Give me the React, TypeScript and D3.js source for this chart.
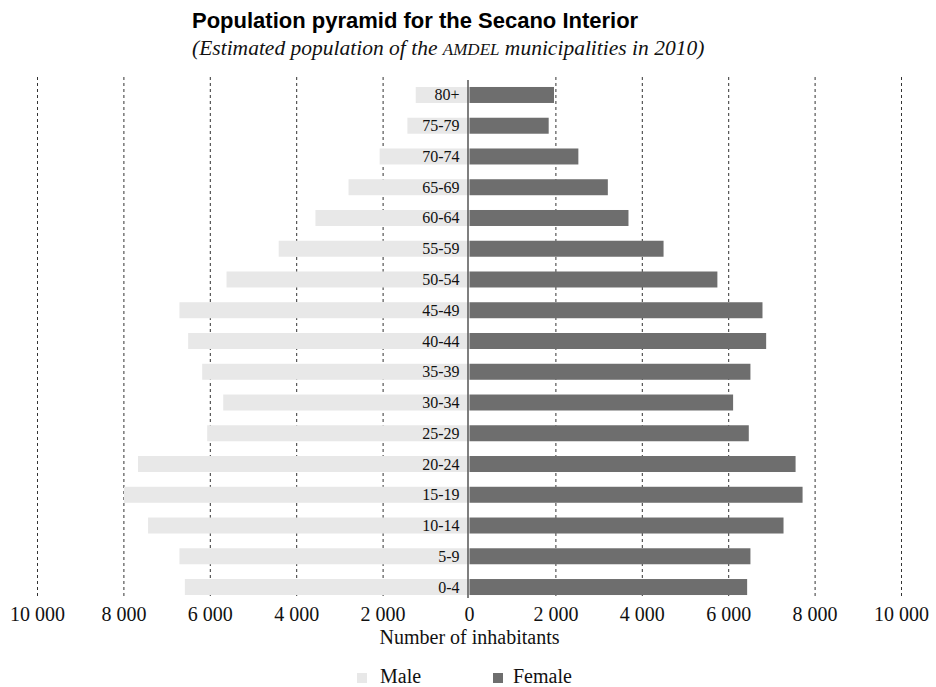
import React from "react";
import * as d3 from "d3";

const ageGroups = ["80+", "75-79", "70-74", "65-69", "60-64", "55-59", "50-54", "45-49", "40-44", "35-39", "30-34", "25-29", "20-24", "15-19", "10-14", "5-9", "0-4"];
const maleValues = [1245, 1438, 2080, 2800, 3566, 4417, 5624, 6714, 6513, 6188, 5701, 6072, 7673, 7998, 7441, 6714, 6589];
const femaleValues = [1956, 1833, 2520, 3202, 3680, 4492, 5738, 6782, 6867, 6503, 6102, 6465, 7548, 7710, 7269, 6503, 6427];
const tickValues = [-10000, -8000, -6000, -4000, -2000, 0, 2000, 4000, 6000, 8000, 10000];
const seriesNames = ["Male", "Female"];
const seriesColors = ["#e8e8e8", "#6e6e6e"];

const W = 936;
const H = 687;
const serif = "'Liberation Serif', 'Times New Roman', serif";
const sans = "'Liberation Sans', Arial, Helvetica, sans-serif";

export default function App() {
  const x = d3.scaleLinear().domain([-10000, 10000]).range([37.5, 901.5]);
  const y = d3.scaleBand<string>().domain(ageGroups).range([79.6, 602.4]).paddingInner(0.48).paddingOuter(0.24);
  const fmt = (v: number) => {
    const a = Math.abs(v);
    return a >= 1000 ? `${Math.floor(a / 1000)} ${String(a % 1000).padStart(3, "0")}` : String(a);
  };
  const bw = y.bandwidth();
  return (
    <svg width={W} height={H} style={{ position: "absolute", left: 0, top: 0, background: "#fff" }}>
      <text x={192} y={27.5} fontFamily={sans} fontWeight="bold" fontSize={22} fill="#000">
        Population pyramid for the Secano Interior
      </text>
      <text x={192} y={55} fontFamily={serif} fontStyle="italic" fontSize={21.5} fill="#111">
        (Estimated population of the <tspan fontSize={17}>AMDEL</tspan> municipalities in 2010)
      </text>
      {tickValues.filter((t) => t !== 0).map((t) => (
        <line key={t} x1={x(t)} x2={x(t)} y1={77} y2={598} stroke="#333" strokeWidth={1} strokeDasharray="3,3" />
      ))}
      {ageGroups.map((g, i) => (
        <g key={g}>
          <rect x={x(-maleValues[i])} y={y(g)} width={x(0) - x(-maleValues[i])} height={bw} fill={seriesColors[0]} />
          <rect x={x(0)} y={y(g)} width={x(femaleValues[i]) - x(0)} height={bw} fill={seriesColors[1]} />
        </g>
      ))}
      <line x1={x(0) - 1.5} x2={x(0) - 1.5} y1={80} y2={598} stroke="#555" strokeWidth={1.5} />
      {ageGroups.map((g) => (
        <text key={g} x={x(0) - 10} y={(y(g) as number) + bw / 2 + 5.5} textAnchor="end" fontFamily={serif} fontSize={16} fill="#111">
          {g}
        </text>
      ))}
      {tickValues.map((t) => (
        <text key={t} x={x(t)} y={621} textAnchor="middle" fontFamily={serif} fontSize={20} fill="#111">
          {fmt(t)}
        </text>
      ))}
      <text x={x(0)} y={644} textAnchor="middle" fontFamily={serif} fontSize={20} fill="#111">
        Number of inhabitants
      </text>
      {seriesNames.map((n, i) => (
        <g key={n} transform={`translate(${i === 0 ? 357 : 493},0)`}>
          <rect x={0} y={673} width={10} height={10} fill={seriesColors[i]} />
          <text x={i === 0 ? 23 : 20} y={683} fontFamily={serif} fontSize={20} fill="#111">
            {n}
          </text>
        </g>
      ))}
    </svg>
  );
}
